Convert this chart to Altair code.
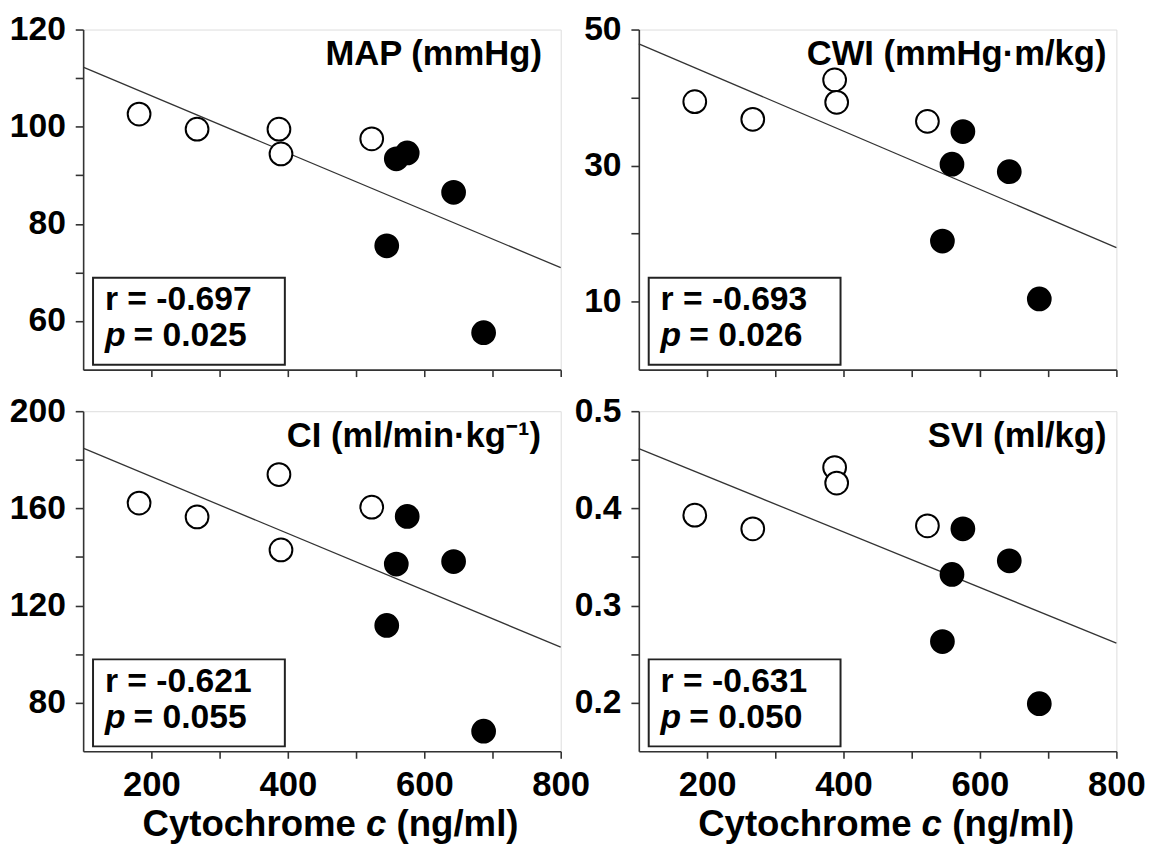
import altair as alt
import pandas as pd

# ---- data ----
cyto = [182, 267, 387, 390, 523, 545, 559, 575, 643, 687]
group = ["open", "open", "open", "open", "open",
         "filled", "filled", "filled", "filled", "filled"]
map_v = [102.6, 99.5, 99.5, 94.4, 97.5, 75.5, 93.4, 94.6, 86.5, 57.6]
cwi_v = [39.4, 36.8, 42.6, 39.3, 36.5, 18.9, 30.2, 35.0, 29.1, 10.4]
ci_v = [162.2, 156.5, 173.9, 142.9, 160.5, 111.8, 137.1, 156.7, 138.1, 68.3]
svi_v = [0.393, 0.379, 0.442, 0.426, 0.382, 0.263, 0.332, 0.379, 0.346, 0.199]

panel_cols = ["MAP", "CWI", "CI", "SVI"]
panel_titles = ["MAP (mmHg)", "CWI (mmHg·m/kg)", "CI (ml/min·kg⁻¹)", "SVI (ml/kg)"]
r_texts = ["r = -0.697", "r = -0.693", "r = -0.621", "r = -0.631"]
p_texts = ["= 0.025", "= 0.026", "= 0.055", "= 0.050"]
y_domains = [[50, 120], [0, 50], [60, 200], [0.15, 0.5]]
y_ticks = [[60, 70, 80, 90, 100, 110, 120],
           [10, 20, 30, 40, 50],
           [80, 100, 120, 140, 160, 180, 200],
           [0.2, 0.25, 0.3, 0.35, 0.4, 0.45, 0.5]]
y_label_exprs = ["datum.value % 20 == 0 ? datum.label : ''",
                 "datum.value % 20 == 10 ? datum.label : ''",
                 "datum.value % 40 == 0 ? datum.label : ''",
                 "round(datum.value * 100) % 10 == 0 ? format(datum.value, '.1f') : ''"]
x_domain = [100, 800]
x_ticks = [200, 300, 400, 500, 600, 700, 800]
x_label_expr = "datum.value % 200 == 0 ? datum.label : ''"
title_insets = [19, 10, 20, 10]

df = pd.DataFrame({"cyto": cyto, "group": group,
                   "MAP": map_v, "CWI": cwi_v, "CI": ci_v, "SVI": svi_v})

W, H = 483, 344
FONT = "Liberation Sans"
AX = "#333333"


def one(text):
    return alt.Chart(pd.DataFrame({"t": [text]}))


def panel(i, bottom):
    col = panel_cols[i]
    xenc = alt.X("cyto:Q",
                 scale=alt.Scale(domain=x_domain, nice=False, zero=False),
                 axis=alt.Axis(values=x_ticks, labelExpr=x_label_expr, title=None,
                               grid=False, labels=bottom, tickSize=7, labelPadding=10,
                               labelFontSize=35, labelFontWeight="bold", labelFont=FONT,
                               labelColor="black", labelFlush=False, labelOverlap=False,
                               domainColor=AX, domainWidth=1.6, tickColor=AX, tickWidth=1.6))
    yenc = alt.Y(f"{col}:Q",
                 scale=alt.Scale(domain=y_domains[i], nice=False, zero=False),
                 axis=alt.Axis(values=y_ticks[i], labelExpr=y_label_exprs[i], title=None,
                               grid=False, tickSize=8, labelPadding=10,
                               labelFontSize=34, labelFontWeight="bold", labelFont=FONT,
                               labelColor="black", labelOverlap=False, labelFlush=False,
                               domainColor=AX, domainWidth=1.6, tickColor=AX, tickWidth=1.6))
    base = alt.Chart(df)
    line = base.transform_regression("cyto", col, extent=x_domain).mark_line(
        color="#333333", strokeWidth=1.3).encode(x=xenc, y=yenc)
    pts = base.mark_point(shape="circle", size=530, strokeWidth=2, opacity=1,
                          stroke="black").encode(
        x=xenc, y=yenc,
        fill=alt.Fill("group:N", scale=alt.Scale(domain=["open", "filled"],
                                                  range=["white", "black"]), legend=None))
    ttl = one(panel_titles[i]).mark_text(align="right", baseline="alphabetic", fontSize=35,
                                         fontWeight="bold", font=FONT, color="black").encode(
        text="t:N", x=alt.value(W - title_insets[i]), y=alt.value(36))
    box = one("box").mark_rect(fill="white", stroke="#222222", strokeWidth=2).encode(
        x=alt.value(10), x2=alt.value(204), y=alt.value(H - 93), y2=alt.value(H - 5))
    rt = one(r_texts[i]).mark_text(align="left", baseline="alphabetic", fontSize=34,
                                   fontWeight="bold", font=FONT, color="black").encode(
        text="t:N", x=alt.value(22), y=alt.value(H - 60))
    pi = one("p").mark_text(align="left", baseline="alphabetic", fontSize=34,
                            fontWeight="bold", fontStyle="italic", font=FONT,
                            color="black").encode(text="t:N", x=alt.value(22), y=alt.value(H - 24))
    pt = one(p_texts[i]).mark_text(align="left", baseline="alphabetic", fontSize=34,
                                   fontWeight="bold", font=FONT, color="black").encode(
        text="t:N", x=alt.value(51), y=alt.value(H - 24))
    layers = [line, pts, ttl, box, rt, pi, pt]
    if bottom:
        ty = H + 86
        t1 = one("Cytochrome").mark_text(align="left", baseline="alphabetic", fontSize=37,
                                         fontWeight="bold", font=FONT, color="black").encode(
            text="t:N", x=alt.value(60), y=alt.value(ty))
        t2 = one("c").mark_text(align="left", baseline="alphabetic", fontSize=37,
                                fontWeight="bold", fontStyle="italic", font=FONT,
                                color="black").encode(text="t:N", x=alt.value(286), y=alt.value(ty))
        t3 = one("(ng/ml)").mark_text(align="left", baseline="alphabetic", fontSize=37,
                                      fontWeight="bold", font=FONT, color="black").encode(
            text="t:N", x=alt.value(317), y=alt.value(ty))
        layers += [t1, t2, t3]
    return alt.layer(*layers).properties(width=W, height=H)


chart = alt.concat(panel(0, False), panel(1, False), panel(2, True), panel(3, True),
                   columns=2, spacing={"row": 42, "column": 79}).properties(
    bounds="flush", padding={"left": 0, "top": -1, "right": 5, "bottom": 0}
).configure_view(strokeWidth=0, fill="#f3f5f4").configure(background="white")

chart.save("out.html", embed_options={"renderer": "svg", "actions": False})
